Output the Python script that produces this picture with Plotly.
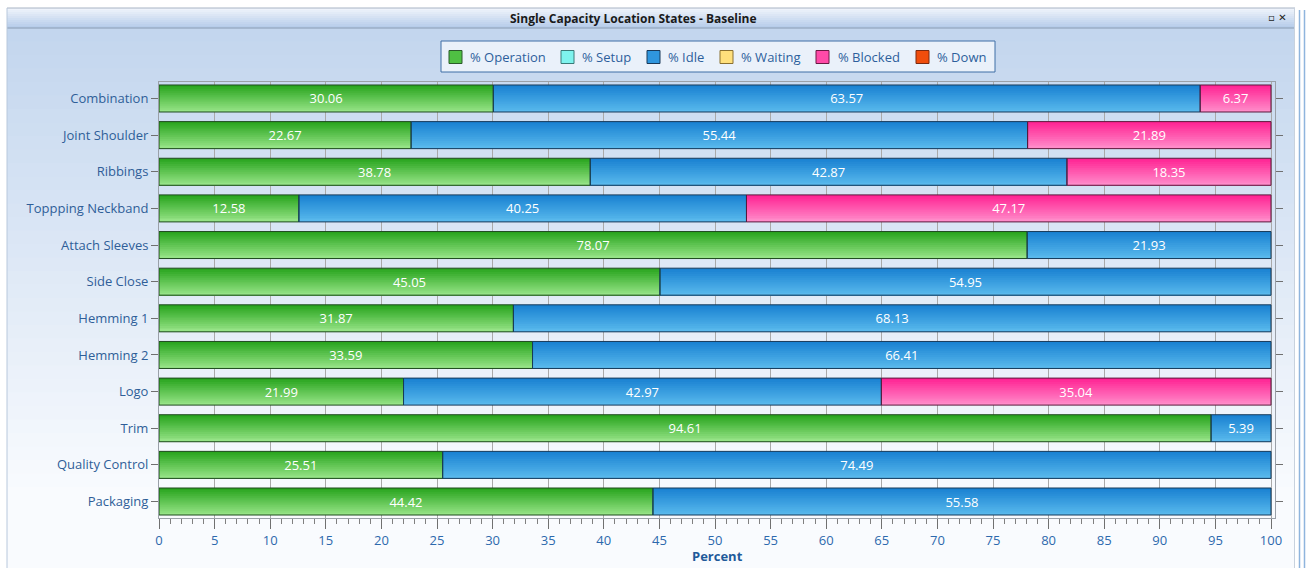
import numpy as np
import plotly.graph_objects as go

# ---------------- data ----------------
locations = ["Combination", "Joint Shoulder", "Ribbings", "Toppping Neckband",
             "Attach Sleeves", "Side Close", "Hemming 1", "Hemming 2", "Logo",
             "Trim", "Quality Control", "Packaging"]
pct_operation = [30.06, 22.67, 38.78, 12.58, 78.07, 45.05, 31.87, 33.59, 21.99, 94.61, 25.51, 44.42]
pct_idle = [63.57, 55.44, 42.87, 40.25, 21.93, 54.95, 68.13, 66.41, 42.97, 5.39, 74.49, 55.58]
pct_blocked = [6.37, 21.89, 18.35, 47.17, None, None, None, None, 35.04, None, None, None]
series_names = ["% Operation", "% Setup", "% Idle", "% Waiting", "% Blocked", "% Down"]
x_ticks = list(range(0, 101, 5))
x_title = "Percent"

# ---------------- styles ----------------
W, H = 1306, 568
L, R, T, B = 159, 31, 82, 50
FONT = "Open Sans"
LABEL_C = "#2d69ad"

grad = {
    "% Operation": ("#2aa51f", "#95e386", "#1f4a1f"),
    "% Idle": ("#1a82d2", "#58b8ec", "#173a5a"),
    "% Blocked": ("#ff2494", "#ff8bc9", "#5a1a3c"),
}
legend_cols = {
    "% Operation": ("#4fc043", "#2a5a2a"),
    "% Setup": ("#7ef3ee", "#3a7a78"),
    "% Idle": ("#2f96de", "#1a3a5a"),
    "% Waiting": ("#ffe07c", "#8a7030"),
    "% Blocked": ("#ff4aa8", "#6a1a44"),
    "% Down": ("#f04d0c", "#7a2a10"),
}
# legend layout (pixel positions of swatch left edge and text left edge)
legend_swatch_x = [449, 561, 647, 720, 816, 916]
legend_text_x = [468, 580, 666, 739, 836, 935]


def hex2rgb(h):
    h = h.lstrip("#")
    return np.array([int(h[i:i + 2], 16) for i in (0, 2, 4)], dtype=float)


def mix(c1, c2, t):
    c = hex2rgb(c1) * (1 - t) + hex2rgb(c2) * t
    return "rgb(%d,%d,%d)" % tuple(np.round(c).astype(int))


def px_x(p):
    return (p - L) / (W - L - R)


def px_y(p):
    return 1 - (p - T) / (H - T - B)


op = np.array(pct_operation, dtype=float)
idle = np.array(pct_idle, dtype=float)

segments = [
    ("% Operation", pct_operation, np.zeros(len(locations))),
    ("% Idle", pct_idle, op),
    ("% Blocked", pct_blocked, op + idle),
]

fig = go.Figure()
BW = 0.737
NSTRIP = 14
for name, vals, base in segments:
    top, bot, edge = grad[name]
    for i in range(NSTRIP):
        start = -BW / 2 + i * BW / NSTRIP
        fig.add_trace(go.Bar(
            y=locations, x=vals, base=base, orientation="h",
            width=BW / 2 - start, offset=start,
            marker=dict(color=mix(top, bot, i / (NSTRIP - 1)), line=dict(width=0)),
            showlegend=False, hoverinfo="skip",
        ))
for name, vals, base in segments:
    edge = grad[name][2]
    fig.add_trace(go.Bar(
        y=locations, x=vals, base=base, orientation="h", width=BW,
        marker=dict(color="rgba(0,0,0,0)", line=dict(color=edge, width=1)),
        text=["" if v is None else f"{v:.2f}" for v in vals],
        textposition="inside", insidetextanchor="middle", textangle=0,
        constraintext="none",
        textfont=dict(color="white", size=13, family=FONT),
        showlegend=False, name=name,
    ))

# ---------------- window decorations ----------------
shapes = []
top_py, bot_py = 28, 568
n = 40
for i in range(n):
    y0 = top_py + (bot_py - top_py) * i / n
    y1 = top_py + (bot_py - top_py) * (i + 1) / n + 1
    t = min(1.0, i / (n * 0.85))
    shapes.append(dict(type="rect", xref="paper", yref="paper", layer="below",
                       x0=px_x(7), x1=px_x(1294), y0=px_y(y1), y1=px_y(y0),
                       fillcolor=mix("#c3d6ee", "#f9fbfe", t), line=dict(width=0)))
for i in range(10):
    y0 = 8 + 2 * i
    shapes.append(dict(type="rect", xref="paper", yref="paper", layer="below",
                       x0=px_x(7), x1=px_x(1295), y0=px_y(y0 + 2.2), y1=px_y(y0),
                       fillcolor=mix("#eef3fb", "#b7cdea", i / 9), line=dict(width=0)))
shapes.append(dict(type="line", xref="paper", yref="paper", layer="below",
                   x0=px_x(7), x1=px_x(1295), y0=px_y(28), y1=px_y(28),
                   line=dict(color="#8a9cb3", width=1)))
shapes.append(dict(type="line", xref="paper", yref="paper", layer="below",
                   x0=px_x(7), x1=px_x(1295), y0=px_y(8), y1=px_y(8),
                   line=dict(color="#a8b4c4", width=1)))
shapes.append(dict(type="line", xref="paper", yref="paper", layer="below",
                   x0=px_x(7), x1=px_x(7), y0=px_y(8), y1=px_y(568),
                   line=dict(color="#b8c8dc", width=1)))
shapes.append(dict(type="line", xref="paper", yref="paper", layer="below",
                   x0=px_x(1294.5), x1=px_x(1294.5), y0=px_y(8), y1=px_y(568),
                   line=dict(color="#c8d2de", width=1)))
for xx in (1299.5, 1304.5):
    shapes.append(dict(type="line", xref="paper", yref="paper", layer="below",
                       x0=px_x(xx), x1=px_x(xx), y0=px_y(10), y1=px_y(568),
                       line=dict(color="#8fb5dd", width=1.5)))

annotations = [
    dict(text="<b>Single Capacity Location States - Baseline</b>", xref="paper", yref="paper",
         x=px_x(633), y=px_y(18), showarrow=False, xanchor="center", yanchor="middle",
         font=dict(family=FONT, size=12, color="#1a1a1a")),
    dict(text="<b>▫ ✕</b>", xref="paper", yref="paper",
         x=px_x(1289), y=px_y(17), showarrow=False, xanchor="right", yanchor="middle",
         font=dict(family="DejaVu Sans", size=10, color="#222222")),
    dict(text="<b>" + x_title + "</b>", xref="paper", yref="paper",
         x=0.5, y=px_y(567), showarrow=False, xanchor="center", yanchor="bottom",
         font=dict(family=FONT, size=13, color="#1f5a9a")),
]

# ---------------- legend (drawn as a box with swatches) ----------------
shapes.append(dict(type="rect", xref="paper", yref="paper", layer="above",
                   x0=px_x(441), x1=px_x(995), y0=px_y(72), y1=px_y(41),
                   fillcolor="#eaf1fa", line=dict(color="#3e6fa6", width=1)))
for name, sx, tx in zip(series_names, legend_swatch_x, legend_text_x):
    fc, lc = legend_cols[name]
    shapes.append(dict(type="rect", xref="paper", yref="paper", layer="above",
                       x0=px_x(sx), x1=px_x(sx + 13), y0=px_y(63.5), y1=px_y(50.5),
                       fillcolor=fc, line=dict(color=lc, width=1)))
    annotations.append(dict(text=name, xref="paper", yref="paper", x=px_x(tx), y=px_y(57),
                            xanchor="left", yanchor="middle", showarrow=False,
                            font=dict(family=FONT, size=13, color="#2d5f9c")))

fig.update_layout(
    width=W, height=H,
    margin=dict(l=L, r=R, t=T, b=B, pad=0, autoexpand=False),
    barmode="overlay",
    paper_bgcolor="white",
    plot_bgcolor="#f6f8fb",
    font=dict(family=FONT, size=13, color=LABEL_C),
    shapes=shapes,
    annotations=annotations,
    showlegend=False,
    xaxis=dict(range=[0, 100.36], tickvals=x_ticks, ticks="outside", ticklen=10,
               tickcolor="#707070", showgrid=True, gridcolor="#a9a9a9", gridwidth=1,
               zeroline=False, showline=True, linecolor="#9aa0a8", mirror=True,
               automargin=False,
               tickfont=dict(family=FONT, size=13, color=LABEL_C),
               minor=dict(dtick=1, ticks="outside", ticklen=5, tickcolor="#808080", showgrid=False)),
    yaxis=dict(categoryorder="array", categoryarray=locations, range=[11.45, -0.45],
               ticks="outside", ticklen=7, tickcolor="#707070", showgrid=False,
               showline=True, linecolor="#9aa0a8", mirror="ticks", automargin=False,
               tickfont=dict(family=FONT, size=13, color="#2f5e98")),
)

fig.write_html("out.html")
